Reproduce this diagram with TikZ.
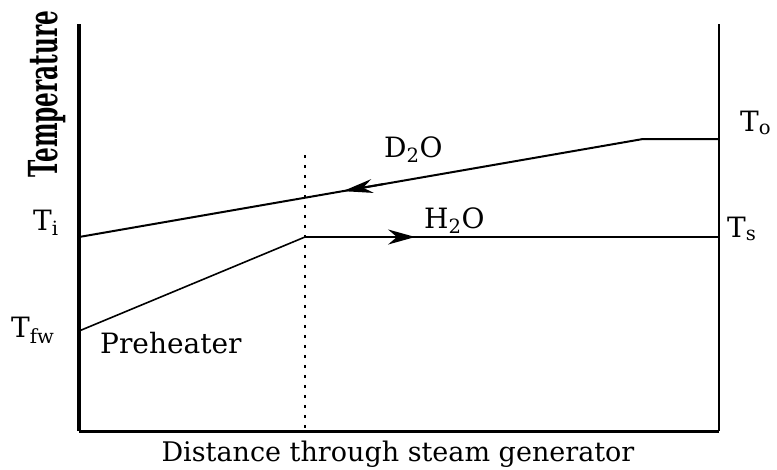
\documentclass[tikz,border=0pt]{standalone}
\usepackage{fontspec}
\setmainfont{DejaVu Serif}
\usepackage{xcolor}
\usepackage{tikz}
\usetikzlibrary{calc,arrows.meta}
\definecolor{ink}{HTML}{000000}
\definecolor{paper}{HTML}{FFFFFF}

\begin{document}
\begin{tikzpicture}[x=1pt, y=-1pt, every node/.style={color=ink, inner sep=0pt, font=\fontsize{28}{30}\selectfont}]
  \fill[paper] (0,0) rectangle (777,469);
  \useasboundingbox (0,0) rectangle (777,469);

  % frame of the chart
  \coordinate (O) at (79,431);
  \coordinate (Y) at (79,24);
  \coordinate (R) at (719,24);
  \coordinate (B) at (719,431);
  \draw[ink, line width=3.5pt] (Y) -- (O);
  \draw[ink, line width=3pt] (O) -- (B);
  \draw[ink, line width=2pt] (R) -- (B);

  % end of the preheater section
  \coordinate (P) at (305,155);
  \coordinate (Q) at (305,431);
  \draw[ink, line width=2.5pt, dash pattern=on 2.5pt off 7.5pt] (P) -- (Q);

  % D2O and H2O temperature lines
  \coordinate (Ti) at (79,237);
  \coordinate (K) at (643,139);
  \coordinate (To) at (719,139);
  \coordinate (Tfw) at (79,331);
  \coordinate (S) at (305,237);
  \coordinate (Ts) at (719,237);
  \draw[ink, line width=2pt] (Ti) -- (K) -- (To);
  \draw[ink, line width=1.6pt] (Tfw) -- (S);
  \draw[ink, line width=2.2pt] (S) -- (Ts);

  % flow directions
  \draw[ink, line width=2pt, -{Stealth[length=30pt, width=14pt]}] ($(Ti)!0.54!(K)$) -- ($(Ti)!0.468!(K)$);
  \draw[ink, line width=2pt, -{Stealth[length=27pt, width=15pt]}] ($(S)!0.18!(Ts)$) -- ($(S)!0.266!(Ts)$);

  % temperatures at the ends
  \foreach \nm/\x/\y/\sub in {lTi/33/230/i, lTfw/11/337/fw, lTo/740/131/o, lTs/727/237/s}{
    \node[anchor=base west] (\nm) at (\x,\y) {T\textsubscript{\sub}};
  }

  % fluids and section
  \node[anchor=base west] (lD) at (384,157) {D\textsubscript{2}O};
  \node[anchor=base west] (lH) at (424,228) {H\textsubscript{2}O};
  \node[anchor=base west] (lpre) at (100,353) {Preheater};

  % axis titles
  \node[anchor=base, font=\fontsize{27}{30}\selectfont] (lx) at (398,461) {Distance through steam generator};
  \node[rotate=90, font=\bfseries\fontsize{40}{40}\selectfont] (ly) at (47,94) {\scalebox{0.58}[1]{Temperature}};
\end{tikzpicture}
\end{document}
